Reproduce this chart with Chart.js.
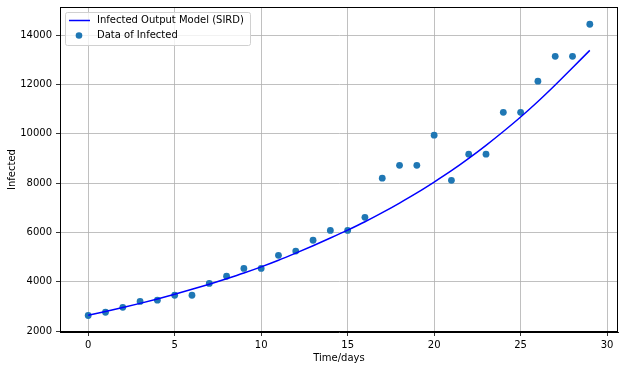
<!DOCTYPE html>
<html>
<head>
<meta charset="utf-8">
<script src="https://cdn.jsdelivr.net/npm/chart.js@4/dist/chart.umd.min.js"></script>
<style>
  html, body { margin: 0; padding: 0; background: #fff; }
  canvas { display: block; }
</style>
</head>
<body>
<canvas id="infectedChart" width="624" height="371"></canvas>
<script>
// days on the x axis
const days = [0, 1, 2, 3, 4, 5, 6, 7, 8, 9, 10, 11, 12, 13, 14, 15, 16, 17, 18, 19, 20, 21, 22, 23, 24, 25, 26, 27, 28, 29];

// observed infected counts (dots)
const infectedData = [2630, 2760, 2960, 3200, 3250, 3450, 3450, 3930, 4220, 4540, 4540, 5070, 5240, 5680, 6080,
    6080, 6610, 8200, 8720, 8720, 9940, 8110, 9170, 9170, 10870, 10870, 12130, 13140, 13140, 14440];

// SIRD model output (line)
const modelOutput = [2640, 2790, 2950, 3120, 3300, 3490, 3690, 3900, 4120, 4350, 4600, 4870, 5160, 5460, 5770,
    6090, 6430, 6800, 7190, 7600, 8040, 8500, 9000, 9530, 10090, 10680, 11310, 11980, 12680, 13380];

const xTicks = [0, 5, 10, 15, 20, 25, 30];
const yTicks = [2000, 4000, 6000, 8000, 10000, 12000, 14000];

const FONT = 'DejaVu Sans';

// legend inside the plot, top left, matplotlib style
const boxLegend = {
    id: 'boxLegend',
    afterDatasetsDraw(chart) {
        const { ctx, chartArea } = chart;
        const x = chartArea.left + 5;
        const y = chartArea.top + 5;
        const w = 185;
        const h = 33;
        ctx.save();
        ctx.fillStyle = 'rgba(255,255,255,0.8)';
        ctx.strokeStyle = '#d0d0d0';
        ctx.lineWidth = 1;
        ctx.beginPath();
        ctx.roundRect(x + 0.5, y + 0.5, w, h, 2);
        ctx.fill();
        ctx.stroke();

        const lineDs = chart.data.datasets[0];
        const dotDs = chart.data.datasets[1];
        ctx.font = '10px ' + FONT;
        ctx.fillStyle = '#000';
        ctx.textBaseline = 'middle';

        ctx.strokeStyle = lineDs.borderColor;
        ctx.lineWidth = 1.5;
        ctx.beginPath();
        ctx.moveTo(x + 4, y + 8.5);
        ctx.lineTo(x + 25, y + 8.5);
        ctx.stroke();
        ctx.fillText(lineDs.label, x + 32, y + 8.5);

        ctx.fillStyle = dotDs.backgroundColor;
        ctx.beginPath();
        ctx.arc(x + 14, y + 23.5, 3.3, 0, Math.PI * 2);
        ctx.fill();
        ctx.fillStyle = '#000';
        ctx.fillText(dotDs.label, x + 32, y + 23);
        ctx.restore();
    }
};

// top and right spines
const frame = {
    id: 'frame',
    afterDraw(chart) {
        const { ctx, chartArea } = chart;
        ctx.save();
        ctx.strokeStyle = '#000';
        ctx.lineWidth = 1;
        ctx.strokeRect(chartArea.left + 0.5, chartArea.top + 0.5,
            chartArea.right - chartArea.left - 1, chartArea.bottom - chartArea.top - 1);
        ctx.restore();
    }
};

const ctx = document.getElementById('infectedChart').getContext('2d');
new Chart(ctx, {
    data: {
        datasets: [{
            type: 'line',
            label: 'Infected Output Model (SIRD)',
            data: days.map((d, i) => ({ x: d, y: modelOutput[i] })),
            borderColor: '#0000ff',
            backgroundColor: '#0000ff',
            borderWidth: 1.5,
            pointRadius: 0,
            cubicInterpolationMode: 'monotone',
            fill: false
        }, {
            type: 'scatter',
            label: 'Data of Infected',
            data: days.map((d, i) => ({ x: d, y: infectedData[i] })),
            backgroundColor: '#1f77b4',
            borderWidth: 0,
            pointRadius: 3.4
        }]
    },
    options: {
        responsive: false,
        animation: false,
        devicePixelRatio: 1,
        layout: {
            padding: { left: 0, top: 7, right: 6, bottom: 0 }
        },
        plugins: {
            legend: { display: false },
            tooltip: { enabled: false }
        },
        scales: {
            x: {
                type: 'linear',
                min: -1.63,
                max: 30.63,
                afterBuildTicks: (scale) => { scale.ticks = xTicks.map(v => ({ value: v })); },
                afterFit: (scale) => {
                    scale.height = 39;
                    scale.paddingLeft = 0;
                    scale.paddingRight = 0;
                },
                grid: { color: '#b0b0b0', lineWidth: 0.8, tickColor: '#000', tickLength: 4 },
                border: { color: '#000', width: 1 },
                ticks: { font: { family: FONT, size: 10 }, color: '#000', padding: 3, maxRotation: 0 },
                title: {
                    display: true,
                    text: 'Time/days',
                    font: { family: FONT, size: 10 },
                    color: '#000',
                    padding: { top: 0, bottom: 7 }
                }
            },
            y: {
                type: 'linear',
                min: 1960,
                max: 15140,
                afterBuildTicks: (scale) => { scale.ticks = yTicks.map(v => ({ value: v })); },
                afterFit: (scale) => {
                    scale.width = 60;
                    scale.paddingTop = 0;
                    scale.paddingBottom = 0;
                },
                grid: { color: '#b0b0b0', lineWidth: 0.8, tickColor: '#000', tickLength: 4 },
                border: { color: '#000', width: 1 },
                ticks: { font: { family: FONT, size: 10 }, color: '#000', padding: 4, callback: (v) => String(v) },
                title: {
                    display: true,
                    text: 'Infected',
                    font: { family: FONT, size: 10 },
                    color: '#000',
                    padding: { top: 6, bottom: 0 }
                }
            }
        }
    },
    plugins: [boxLegend, frame]
});
</script>
</body>
</html>
